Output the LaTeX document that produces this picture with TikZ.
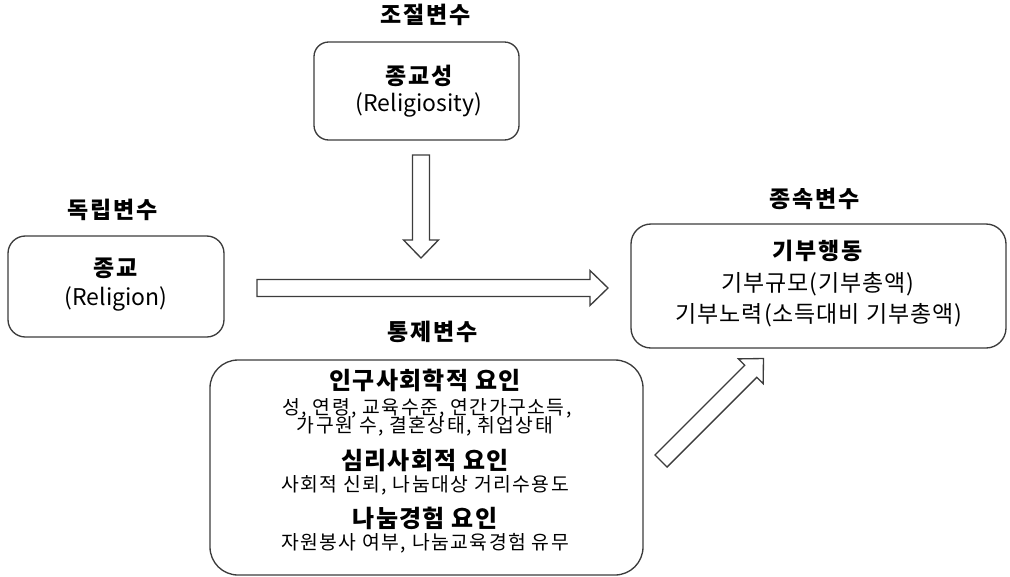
\documentclass[tikz,border=0pt]{standalone}
\usepackage{fontspec}
\setmainfont{Noto Sans CJK KR}
\usetikzlibrary{calc,fit}
\definecolor{linegray}{RGB}{60,60,60}
\newcommand\blockarr[2]{%
  \coordinate (ba-base) at ($(#2)!13.5pt!(#1)$);
  \draw[blockarrow] ($(#1)!6.4pt!90:(#2)$) -- ($(ba-base)!6.4pt!90:(#2)$)
    -- ($(ba-base)!13.1pt!90:(#2)$) -- (#2) -- ($(ba-base)!13.1pt!-90:(#2)$)
    -- ($(ba-base)!6.4pt!-90:(#2)$) -- ($(#1)!6.4pt!-90:(#2)$) -- cycle;}
\begin{document}
\begin{tikzpicture}[x=0.75pt,y=-0.75pt,
  box/.style={draw=linegray, line width=1pt, inner sep=0pt, rounded corners=#1},
  blockarrow/.style={draw=linegray, line width=1pt, fill=white, line join=miter},
  txt/.style={inner sep=0pt, text height=0.8em, text depth=0.15em, font=\fontsize{17.25pt}{20pt}\selectfont},
  krtxt/.style={txt, font=\fontsize{17.25pt}{20pt}\selectfont\addfontfeature{LetterSpace=4}},
  head/.style={txt, font=\fontsize{17.25pt}{20pt}\selectfont\bfseries\addfontfeature{LetterSpace=8}},
  bighead/.style={txt, font=\fontsize{18pt}{20pt}\selectfont\bfseries\addfontfeature{LetterSpace=5.5}},
  small/.style={txt, font=\fontsize{14.5pt}{18pt}\selectfont\addfontfeature{LetterSpace=7.5}}]
\useasboundingbox (0,0) rectangle (1010,576);

% boxes
\node[box=11pt, fit={(314,42) (519,140)}] (mod) {};
\node[box=13pt, fit={(8,236) (224,337)}] (ind) {};
\node[box=15pt, fit={(631,224) (1006,348)}] (dep) {};
\node[box=21pt, fit={(210,360) (643,575)}] (ctl) {};

% titles
\node[head] (tmod) at (426,19) {조절변수};
\node[head] (tind) at (113,214) {독립변수};
\node[head] (tdep) at (815,203) {종속변수};
\node[head] (tctl) at (433,336) {통제변수};

% moderator
\node[head] (m1) at (419,80) {종교성};
\node[txt] (m2) at (419,107) {(Religiosity)};

% independent
\node[head] (i1) at (116,272) {종교};
\node[txt] (i2) at (116,301) {(Religion)};

% dependent
\node[head] (d1) at (818,255) {기부행동};
\node[krtxt] (d2) at (818,287) {기부규모(기부총액)};
\node[krtxt] (d3) at (819,318) {기부노력(소득대비 기부총액)};

% control
\node[bighead] (c1) at (425,385) {인구사회학적 요인};
\node[small] (c2) at (427,410) {성, 연령, 교육수준, 연간가구소득,};
\node[small] (c3) at (425,428) {가구원 수, 결혼상태, 취업상태};
\node[bighead] (c4) at (425,465) {심리사회적 요인};
\node[small] (c5) at (425,487) {사회적 신뢰, 나눔대상 거리수용도};
\node[bighead] (c6) at (425,523) {나눔경험 요인};
\node[small] (c7) at (425,545) {자원봉사 여부, 나눔교육경험 유무};

% block arrows
\coordinate (a1s) at (421,155);
\coordinate (a1e) at (421,258);
\coordinate (a2s) at (257,288);
\coordinate (a2e) at (608,288);
\coordinate (a3s) at (661,461);
\coordinate (a3e) at (763.5,358.5);
\blockarr{a1s}{a1e}
\blockarr{a2s}{a2e}
\blockarr{a3s}{a3e}
\end{tikzpicture}
\end{document}
